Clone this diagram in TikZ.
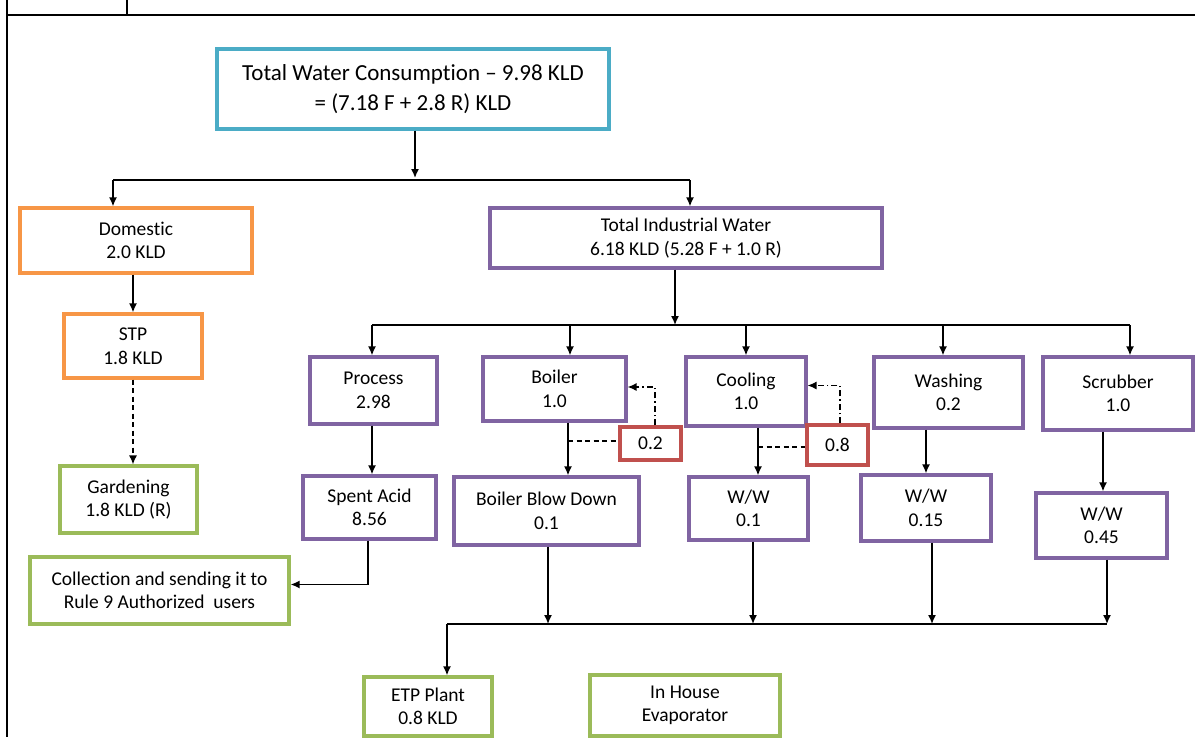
\documentclass[tikz,border=0pt]{standalone}
\usepackage{fontspec}
\setmainfont{Carlito}[Ligatures={NoCommon,NoContextual},RawFeature={-liga;-clig;-calt}]
\usetikzlibrary{arrows.meta}
\definecolor{tcyan}{HTML}{4BACC6}
\definecolor{torange}{HTML}{F79646}
\definecolor{tpurple}{HTML}{8064A2}
\definecolor{tgreen}{HTML}{9BBB59}
\definecolor{tred}{HTML}{C0504D}
\begin{document}
\begin{tikzpicture}[x=1pt,y=-1pt,
	box/.style={draw,line width=3.2pt,inner sep=0pt,align=center,font=\fontsize{19.5}{23.5}\selectfont},
	cbox/.style={box,draw=tcyan,font=\fontsize{23}{30}\selectfont},
	obox/.style={box,draw=torange},
	pbox/.style={box,draw=tpurple},
	gbox/.style={box,draw=tgreen},
	rbox/.style={box,draw=tred},
	arr/.style={-{Latex[length=9pt,width=8pt]},line width=1.5pt},
	conn/.style={line width=1.5pt},
	dashline/.style={line width=1.3pt,dash pattern=on 5pt off 3.5pt},
	dashdotline/.style={arr,line width=1.3pt,dash pattern=on 6pt off 3pt on 1.5pt off 3pt},
	frame/.style={line width=2.4pt}]
	\useasboundingbox (0,0) rectangle (1195,737);
	\draw[frame] (7,0) -- (7,737) (7,15) -- (1195,15) (127,0) -- (127,15);

	\node[cbox,minimum width=392pt,minimum height=80pt] (total) at (413,89) {Total Water Consumption -- 9.98 KLD\\= (7.18 F + 2.8 R) KLD};
	\node[obox,minimum width=232pt,minimum height=65pt] (dom) at (136,240.5) {Domestic\\2.0 KLD};
	\node[obox,minimum width=138pt,minimum height=64pt] (stp) at (133,346) {STP\\1.8 KLD};
	\node[gbox,minimum width=137pt,minimum height=67pt] (garden) at (128.5,499.5) {Gardening\\1.8 KLD (R)};
	\node[pbox,minimum width=392pt,minimum height=60pt] (ind) at (686,238) {Total Industrial Water\\6.18 KLD (5.28 F + 1.0 R)};

	\node[pbox,minimum width=127pt,minimum height=67pt] (process) at (373.5,390.5) {Process\\2.98};
	\node[pbox,minimum width=143pt,minimum height=64pt] (boiler) at (554.5,389) {Boiler\\1.0};
	\node[pbox,minimum width=120pt,minimum height=69pt] (cooling) at (746,391.5) {Cooling\\1.0};
	\node[pbox,minimum width=149pt,minimum height=71pt] (washing) at (948.5,392.5) {Washing\\0.2};
	\node[pbox,minimum width=150pt,minimum height=73pt] (scrubber) at (1118,393.5) {Scrubber\\1.0};
	\node[rbox,minimum width=61pt,minimum height=33pt] (bret) at (650.5,443.5) {0.2};
	\node[rbox,minimum width=61pt,minimum height=40pt] (cret) at (837.5,445) {0.8};

	\node[pbox,minimum width=133pt,minimum height=63pt] (acid) at (369.5,507.5) {Spent Acid\\8.56};
	\node[pbox,minimum width=185pt,minimum height=68pt] (blowdown) at (546.5,511) {Boiler Blow Down\\0.1};
	\node[pbox,minimum width=119pt,minimum height=63pt] (wwcool) at (748.5,508.5) {W/W\\0.1};
	\node[pbox,minimum width=130pt,minimum height=66pt] (wwwash) at (926,508) {W/W\\0.15};
	\node[pbox,minimum width=131pt,minimum height=65pt] (wwscrub) at (1101.5,525.5) {W/W\\0.45};
	\node[gbox,minimum width=259pt,minimum height=67pt] (collect) at (159.5,590.5) {Collection and sending it to\\Rule 9 Authorized~ users};
	\node[gbox,minimum width=128pt,minimum height=59pt] (etp) at (428,706.5) {ETP Plant\\0.8 KLD};
	\node[gbox,minimum width=190pt,minimum height=61pt] (evap) at (685,705.5) {In House\\Evaporator};

	\coordinate (topL) at (113,180);
	\coordinate (topR) at (690,180);
	\coordinate (indJ) at (675,325);
	\coordinate (indL) at (372,325);
	\coordinate (indR) at (1130,325);
	\coordinate (bJ) at (568,441);
	\coordinate (cJ) at (758,447);
	\coordinate (etpL) at (447,624);
	\coordinate (etpR) at (1107,624);

	\draw[arr] (total.south -| 415,0) -- (415,178);
	\draw[conn] (topL) -- (topR);
	\draw[arr] (topL) -- (topL |- dom.north);
	\draw[arr] (topR) -- (topR |- ind.north);
	\draw[arr] (stp.north |- dom.south) -- (stp.north);
	\draw[arr,dashline] (stp) -- (stp |- garden.north);

	\draw[arr] (indJ |- ind.south) -- (indJ);
	\draw[conn] (indL) -- (indR);
	\foreach \xx/\nn in {372/process,570/boiler,746/cooling,943/washing,1130/scrubber}
		\draw[arr] (\xx,325) -- (\nn.north -| \xx,0);

	\draw[arr] ([xshift=2.5pt]acid.north |- process.south) -- ([xshift=2.5pt]acid.north);
	\draw[arr] (bJ |- boiler.south) -- (bJ |- blowdown.north);
	\draw[dashline] (bJ) -- (bret.west |- bJ);
	\draw[dashdotline] ([xshift=4.5pt]bret.north) |- ([yshift=2pt]boiler.east);
	\draw[arr] (cJ |- cooling.south) -- (cJ |- wwcool.north);
	\draw[dashline] (cJ) -- (cret.west |- cJ);
	\draw[dashdotline] ([xshift=2.5pt]cret.north) |- ([yshift=6pt]cooling.east);
	\draw[arr] (wwwash.north |- washing.south) -- (wwwash.north);
	\draw[arr] ([xshift=1.5pt]wwscrub.north |- scrubber.south) -- ([xshift=1.5pt]wwscrub.north);
	\draw[arr] ([xshift=-1.5pt]acid.south) |- ([yshift=6pt]collect.east);

	\draw[arr] ([xshift=1.5pt]blowdown.south) -- ([xshift=1.5pt]blowdown.south |- etpL);
	\draw[arr] ([xshift=4.5pt]wwcool.south) -- ([xshift=4.5pt]wwcool.south |- etpL);
	\draw[arr] ([xshift=6pt]wwwash.south) -- ([xshift=6pt]wwwash.south |- etpL);
	\draw[arr] ([xshift=5.5pt]wwscrub.south) -- ([xshift=5.5pt]wwscrub.south |- etpL);
	\draw[conn] (etpL) -- (etpR);
	\draw[arr] (etpL) -- (etpL |- etp.north);
\end{tikzpicture}
\end{document}
